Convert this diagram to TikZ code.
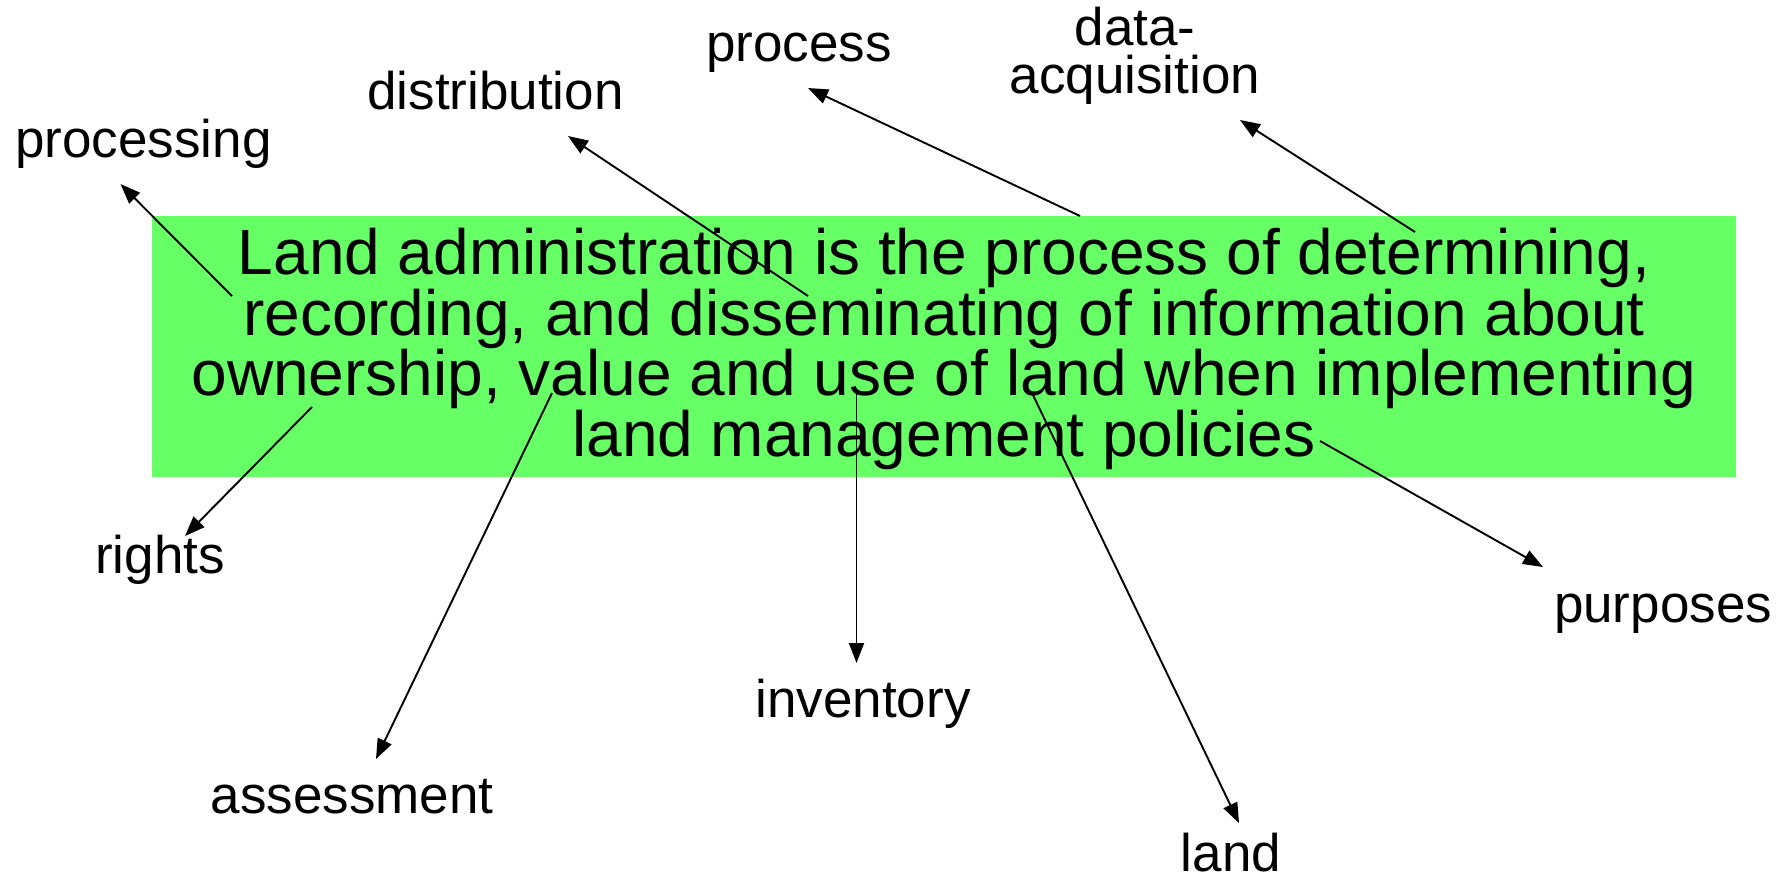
\documentclass[tikz,border=0pt]{standalone}
\usepackage{fontspec}
\setmainfont{Liberation Sans}
\usetikzlibrary{arrows.meta}

\begin{document}
\begin{tikzpicture}[x=1pt, y=-1pt,
    defbox/.style={fill=defgreen, inner sep=0pt, minimum width=1584pt, minimum height=261pt,
      align=center, font=\fontsize{64}{58}\selectfont},
    term/.style={inner sep=0pt, anchor=base, font=\fontsize{53}{48}\selectfont},
    link/.style={line width=1.9pt, -{Triangle[length=20pt, width=15pt]}}]
\definecolor{defgreen}{RGB}{102,255,102}
\useasboundingbox (0,0) rectangle (1788,881);
\node[defbox] (def) at (944,346.5) {};
\node[align=center, inner sep=0pt, font=\fontsize{64}{58}\selectfont] (deftext) at (944,349)
     {Land administration is the process of determining,\\
      recording, and disseminating of information about\\
      ownership, value and use of land when implementing\\
      land management policies};
% terms round the definition
\node[term] (processing) at (143.5,157) {processing};
\node[term] (distribution) at (495.5,109) {distribution};
\node[term] (process) at (799,61) {process};
\node[term, anchor=center, align=center] (acq) at (1135,55.5) {data-\\acquisition};
\node[term] (rights) at (160,573) {rights};
\node[term] (assessment) at (352,813) {assessment};
\node[term] (inventory) at (863,717) {inventory};
\node[term] (land) at (1231,871) {land};
\node[term] (purposes) at (1663,622) {purposes};
% where the arrows leave the text
\coordinate (fromProcessing) at (232,296);
\coordinate (fromDistribution) at (808,296);
\coordinate (fromProcess) at (1080,216);
\coordinate (fromAcq) at (1415,232);
\coordinate (fromRights) at (312,407);
\coordinate (fromAssessment) at (552,393);
\coordinate (fromInventory) at (856.5,393);
\coordinate (fromLand) at (1032,393);
\coordinate (fromPurposes) at (1320,441);
% and where they point to
\coordinate (toProcessing) at (120.5,184);
\coordinate (toDistribution) at (568,136);
\coordinate (toProcess) at (808,88);
\coordinate (toAcq) at (1240,120);
\coordinate (toRights) at (185,536);
\coordinate (toAssessment) at (376,759);
\coordinate (toInventory) at (856.5,663);
\coordinate (toLand) at (1239,823);
\coordinate (toPurposes) at (1543,567);
\foreach \t in {Processing,Distribution,Process,Acq,Rights,Assessment,Inventory,Land,Purposes}
  \draw[link] (from\t) -- (to\t);
\end{tikzpicture}
\end{document}
